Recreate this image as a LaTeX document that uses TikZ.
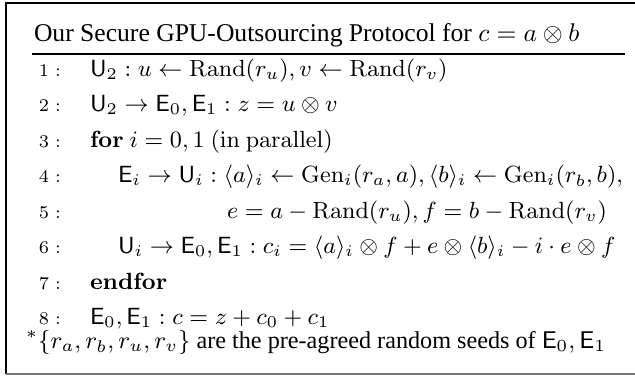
\RequirePackage{fix-cm}
\documentclass[tikz,border=0pt]{standalone}
\usepackage[no-math]{fontspec}
\setmainfont{Liberation Serif}
\usepackage{amsmath}
\begin{document}
\begin{tikzpicture}[x=0.3906pt,y=-0.3906pt,
  hdrtxt/.style={inner sep=0pt,outer sep=0pt,anchor=base west,font=\fontsize{10}{12}\selectfont},
  txt/.style={inner sep=0pt,outer sep=0pt,anchor=base west,font=\fontsize{9.15}{11}\selectfont},
  foottxt/.style={inner sep=0pt,outer sep=0pt,anchor=base west,font=\fontsize{9.45}{11.5}\selectfont},
  num/.style={inner sep=0pt,outer sep=0pt,anchor=base west,font=\fontsize{7}{8}\selectfont}]
\useasboundingbox (0,0) rectangle (635,377);
% frame
\draw[line width=0.6pt] (635,3) -- (6,3) -- (6,374);
\draw[line width=1pt,black!55] (6,374) -- (635,374);
% header
\node[hdrtxt] (hdr) at (34,42) {Our Secure GPU-Outsourcing Protocol for $c = a \otimes b$};
\draw[line width=0.5pt] (32,54) -- (625,54);
% line numbers
\foreach \n/\y in {1/77,2/112,3/148,4/183,5/219,6/254,7/290,8/325}
  \node[num] (n\n) at (39,\y) {$\n:$};
% lines
\node[txt] (l1) at (90,77) {$\mathsf{U}_2 : u \leftarrow \mathrm{Rand}(r_u), v \leftarrow \mathrm{Rand}(r_v)$};
\node[txt] (l2) at (90,112) {$\mathsf{U}_2 \rightarrow \mathsf{E}_0, \mathsf{E}_1 : z = u \otimes v$};
\node[txt] (l3) at (90,148) {$\mathbf{for}\ i = 0, 1\ \mathrm{(in\ parallel)}$};
\node[txt] (l4) at (118,183) {$\mathsf{E}_i \rightarrow \mathsf{U}_i : \langle a\rangle_i \leftarrow \mathrm{Gen}_i(r_a, a), \langle b\rangle_i \leftarrow \mathrm{Gen}_i(r_b, b),$};
\node[txt] (l5) at (227,219) {$e = a - \mathrm{Rand}(r_u), f = b - \mathrm{Rand}(r_v)$};
\node[txt] (l6) at (118,254) {$\mathsf{U}_i \rightarrow \mathsf{E}_0, \mathsf{E}_1 : c_i = \langle a\rangle_i \otimes f + e \otimes \langle b\rangle_i - i \cdot e \otimes f$};
\node[txt] (l7) at (90,290) {$\mathbf{endfor}$};
\node[txt] (l8) at (90,325) {$\mathsf{E}_0, \mathsf{E}_1 : c = z + c_0 + c_1$};
\node[foottxt] (foot) at (26,349) {$^*\{r_a, r_b, r_u, r_v\}$ are the pre-agreed random seeds of $\mathsf{E}_0, \mathsf{E}_1$};
\end{tikzpicture}
\end{document}
